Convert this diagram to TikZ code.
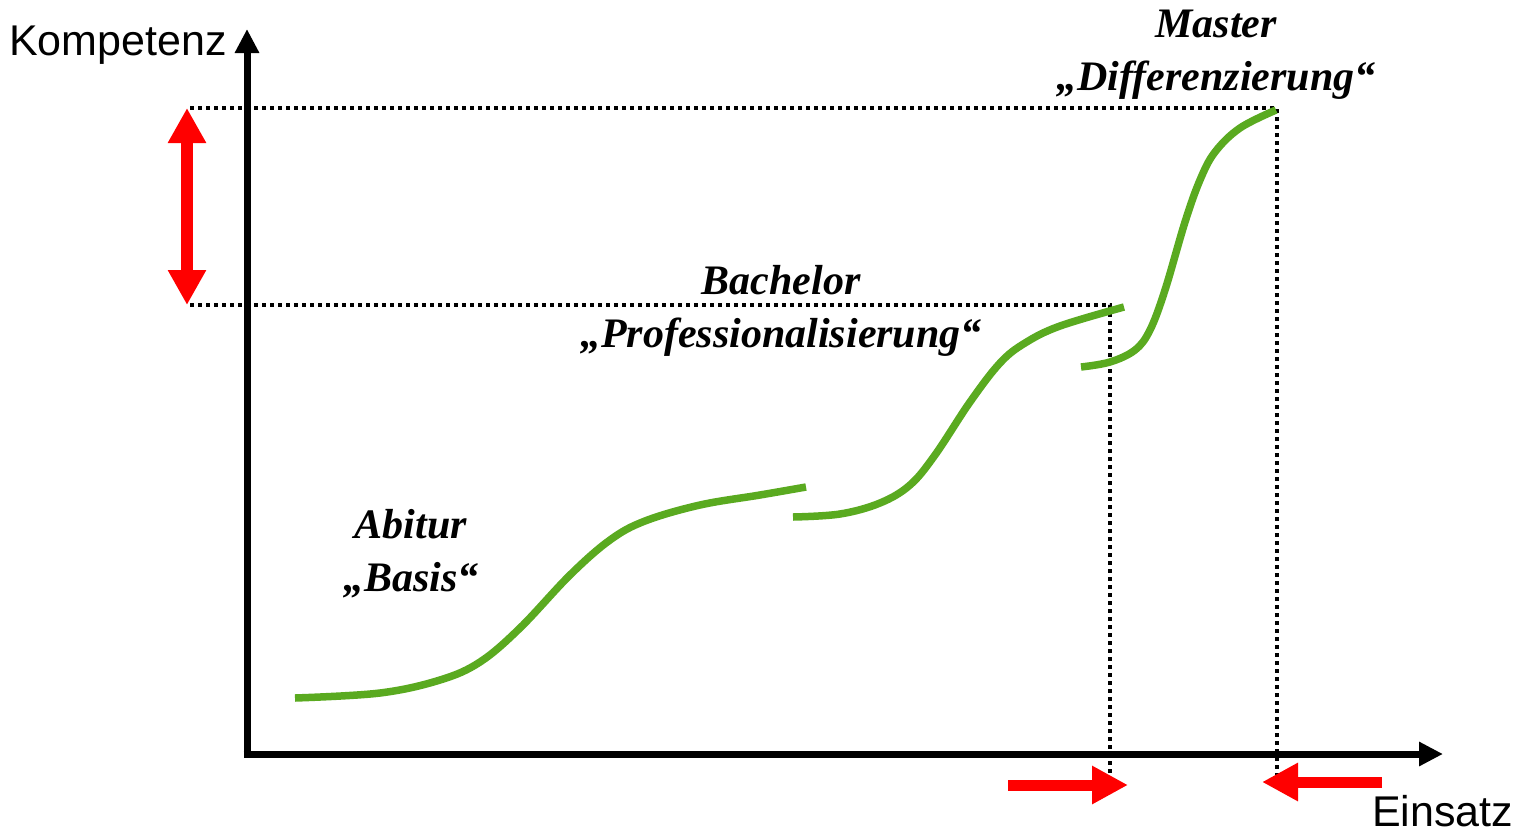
\documentclass[tikz,border=0pt]{standalone}
\usepackage{fontspec}
\setmainfont{Liberation Serif}
\newfontfamily\arialfont{Liberation Sans}
\usetikzlibrary{arrows.meta}
\definecolor{curvegreen}{RGB}{90,170,32}
\definecolor{arrowred}{RGB}{255,0,0}
\tikzset{
  axisline/.style={line width=7pt, -{Triangle[length=24pt,width=23pt]}},
  guide/.style={line width=3.5pt, dash pattern=on 4pt off 4pt},
  growth/.style={curvegreen, line width=7.5pt},
  redarrow/.style={arrowred, line width=11pt, -{Triangle[length=36pt,width=36pt]}},
  reddouble/.style={arrowred, line width=12pt, {Triangle[length=35pt,width=36pt]}-{Triangle[length=35pt,width=36pt]}},
  axislabel/.style={font=\arialfont\fontsize{43}{48}\selectfont, inner sep=0pt},
  stagelabel/.style={font=\bfseries\itshape\fontsize{42}{53}\selectfont, align=center, inner sep=0pt}
}
\begin{document}
\begin{tikzpicture}[x=1pt,y=-1pt]
\useasboundingbox (0,0) rectangle (1517,833);
% axes
\coordinate (O) at (247,754);
\coordinate (ytip) at (247,29);
\coordinate (xtip) at (1443,754);
\draw[axisline] (247,757.5) -- (ytip);
\draw[axisline] (243.5,754) -- (xtip);
\node[axislabel, anchor=base west] (komp) at (9,55) {Kompetenz};
\node[axislabel, anchor=base west] (eins) at (1372,826) {Einsatz};
% guide lines
\coordinate (mL) at (190,108);
\coordinate (mR) at (1277,108);
\coordinate (mB) at (1277,776);
\coordinate (bL) at (190,305);
\coordinate (bR) at (1110,305);
\coordinate (bB) at (1110,776);
\draw[guide] (mL) -- (mR) -- (mB);
\draw[guide] (bL) -- (bR) -- (bB);
% red arrows
\coordinate (dTop) at (187,108);
\coordinate (dBot) at (187,305);
\draw[reddouble] (dTop) -- (dBot);
\coordinate (r1s) at (1008,785);
\coordinate (r1e) at (1128,785);
\draw[redarrow] (r1s) -- (r1e);
\coordinate (r2s) at (1382,782);
\coordinate (r2e) at (1262,782);
\draw[redarrow] (r2s) -- (r2e);
% growth curves
\draw[growth] plot[smooth, tension=0.6] coordinates {(295,698) (380,693) (440,680) (480,662) (520,628) (570,575) (610,540) (645,521) (700,505) (760,495) (806,487)};
\draw[growth] plot[smooth, tension=0.6] coordinates {(793,517) (840,514) (880,503) (910,485) (935,455) (970,402) (1000,363) (1025,343) (1060,326) (1124,307)};
\draw[growth] plot[smooth, tension=0.6] coordinates {(1081,367) (1110,362) (1135,350) (1150,330) (1165,290) (1185,222) (1200,180) (1215,152) (1240,128) (1276,110)};
% labels
\node[stagelabel] (abitur) at (411,554) {Abitur\\„Basis“};
\node[stagelabel] (bachelor) at (781,311) {Bachelor\\„Professionalisierung“};
\node[stagelabel] (master) at (1216,55) {Master\\„Differenzierung“};
\end{tikzpicture}
\end{document}
